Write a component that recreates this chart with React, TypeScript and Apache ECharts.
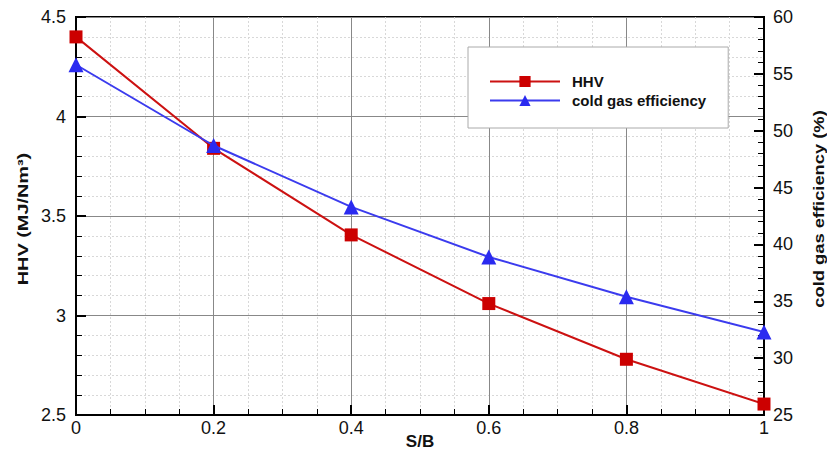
import React, { useEffect, useRef } from "react";
import * as echarts from "echarts";

const sbValues = [0, 0.2, 0.4, 0.6, 0.8, 1.0];
const hhvValues = [4.4, 3.84, 3.405, 3.06, 2.78, 2.555];
const cgeValues = [55.8, 48.7, 43.3, 38.9, 35.4, 32.3];

const FONT = "'Liberation Sans', Arial, sans-serif";

export default function App() {
  const ref = useRef<HTMLDivElement>(null);
  useEffect(() => {
    if (!ref.current) return;
    const chart = echarts.init(ref.current, undefined, { renderer: "svg" });
    const labelStyle = { color: "#111", fontSize: 18, fontFamily: FONT };
    const minorGrid = { show: true, lineStyle: { color: "#d8d8d8", type: [2, 2] as any, width: 1 } };
    chart.setOption({
      animation: false,
      backgroundColor: "#fff",
      textStyle: { fontFamily: FONT },
      grid: {
        left: 76,
        right: 63,
        top: 17,
        bottom: 36,
        show: true,
        borderColor: "#000",
        borderWidth: 2,
        backgroundColor: "transparent",
        outerBoundsMode: "none",
        containLabel: false,
      },
      legend: {
        orient: "vertical",
        left: 468,
        top: 47,
        padding: [27, 22, 20, 21],
        itemWidth: 70,
        itemHeight: 14,
        itemGap: 4,
        backgroundColor: "#fff",
        borderColor: "#aaa",
        borderWidth: 1,
        textStyle: {
          fontSize: 15,
          lineHeight: 15,
          fontWeight: "bold",
          color: "#111",
          fontFamily: FONT,
          padding: [0, 0, 0, 7],
        },
        data: ["HHV", "cold gas efficiency"],
      },
      graphic: [
        {
          type: "text",
          x: 23,
          y: 219,
          rotation: Math.PI / 2,
          scaleX: 1.42,
          style: {
            text: "HHV (MJ/Nm³)",
            font: `bold 14px ${FONT}`,
            fill: "#111",
            align: "center",
            verticalAlign: "middle",
          },
        },
        {
          type: "text",
          x: 819,
          y: 209,
          rotation: Math.PI / 2,
          scaleX: 1.31,
          style: {
            text: "cold gas efficiency (%)",
            font: `bold 14px ${FONT}`,
            fill: "#111",
            align: "center",
            verticalAlign: "middle",
          },
        },
        {
          type: "text",
          x: 420,
          y: 441,
          style: {
            text: "S/B",
            font: `bold 17px ${FONT}`,
            fill: "#111",
            align: "center",
            verticalAlign: "middle",
          },
        },
      ],
      xAxis: {
        type: "value",
        min: 0,
        max: 1,
        interval: 0.2,
        axisLine: { show: true, lineStyle: { color: "#000", width: 2 } },
        axisTick: { show: true, inside: true, length: 10, lineStyle: { color: "#000", width: 2 } },
        minorTick: { show: true, splitNumber: 4, length: 6, lineStyle: { color: "#000", width: 1 } },
        axisLabel: { ...labelStyle, margin: 4, formatter: (v: number) => String(Math.round(v * 10) / 10) },
        splitLine: { show: true, lineStyle: { color: "#888", width: 1 } },
        minorSplitLine: minorGrid,
      },
      yAxis: [
        {
          type: "value",
          min: 2.5,
          max: 4.5,
          interval: 0.5,
          axisLine: { show: true, lineStyle: { color: "#000", width: 2 } },
          axisTick: { show: true, inside: true, length: 10, lineStyle: { color: "#000", width: 2 } },
          minorTick: { show: true, splitNumber: 5, length: 6, lineStyle: { color: "#000", width: 1 } },
          axisLabel: { ...labelStyle, margin: 10 },
          splitLine: { show: true, lineStyle: { color: "#888", width: 1 } },
          minorSplitLine: minorGrid,
        },
        {
          type: "value",
          min: 25,
          max: 60,
          interval: 5,
          position: "right",
          axisLine: { show: true, lineStyle: { color: "#000", width: 2 } },
          axisTick: { show: true, inside: true, length: 10, lineStyle: { color: "#000", width: 2 } },
          minorTick: { show: true, splitNumber: 5, length: 6, lineStyle: { color: "#000", width: 1 } },
          axisLabel: { ...labelStyle, margin: 9 },
          splitLine: { show: false },
        },
      ],
      series: [
        {
          name: "HHV",
          type: "line",
          yAxisIndex: 0,
          data: sbValues.map((x, i) => [x, hhvValues[i]]),
          symbol: "rect",
          symbolSize: 13,
          lineStyle: { color: "#cc1111", width: 2 },
          itemStyle: { color: "#cc0000" },
          z: 3,
        },
        {
          name: "cold gas efficiency",
          type: "line",
          yAxisIndex: 1,
          data: sbValues.map((x, i) => [x, cgeValues[i]]),
          symbol: "triangle",
          symbolSize: 15,
          lineStyle: { color: "#3b3bee", width: 2 },
          itemStyle: { color: "#2a2af0" },
          z: 4,
        },
      ],
    });
    return () => chart.dispose();
  }, []);
  return <div ref={ref} style={{ width: 827, height: 451, position: "absolute", left: 0, top: 0 }} />;
}
